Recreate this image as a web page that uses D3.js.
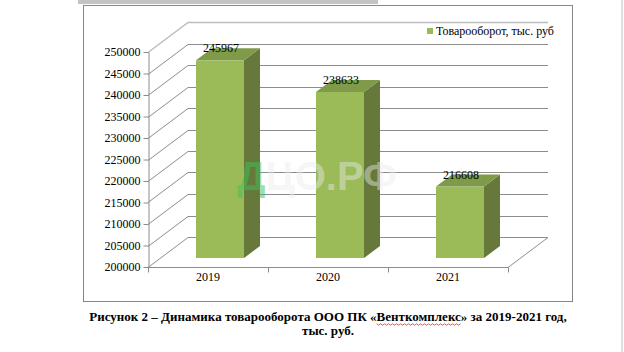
<!DOCTYPE html>
<html>
<head>
<meta charset="utf-8">
<script src="https://cdn.jsdelivr.net/npm/d3@7"></script>
<style>
  body { margin: 0; background: #fff; }
  svg { display: block; }
</style>
</head>
<body>
<div id="chart"></div>
<script>
const years = ["2019", "2020", "2021"];
const turnover = [245967, 238633, 216608];
const yTicks = [200000, 205000, 210000, 215000, 220000, 225000, 230000, 235000, 240000, 245000, 250000];
const seriesName = "Товарооборот, тыс. руб";
const captionLine1 = ["Рисунок 2 – Динамика товарооборота ООО ПК ", "«", "Венткомплекс", "» за 2019-2021 год,"];
const captionLine2 = "тыс. руб.";

const width = 624;
const height = 352;
const serif = "'Liberation Serif', 'Times New Roman', serif";

// plot area (front plane) and 3d depth
const plot = { left: 148, right: 508, top: 52, bottom: 267 };
const depth = { dx: 40, dy: -30 };

const svg = d3.select("#chart")
  .append("svg")
  .attr("width", width)
  .attr("height", height);

// page decorations
svg.append("rect").attr("x", 78).attr("y", 0).attr("width", 300).attr("height", 4).attr("fill", "#c3c3c3");
svg.append("line").attr("x1", 622).attr("x2", 622).attr("y1", 0).attr("y2", height)
  .attr("stroke", "#d4d4d4").attr("stroke-width", 1.5);

// chart frame
svg.append("rect")
  .attr("x", 83.5).attr("y", 5.5)
  .attr("width", 489).attr("height", 296)
  .attr("fill", "#fff")
  .attr("stroke", "#868686");

const x = d3.scaleBand()
  .domain(years)
  .range([plot.left, plot.right]);

const y = d3.scaleLinear()
  .domain([200000, 250000])
  .range([plot.bottom, plot.top]);

// back wall gridlines with diagonals on the side wall
const grid = svg.append("g").attr("stroke", "#8c8c8c").attr("fill", "none");
yTicks.forEach((v) => {
  const yy = Math.round(y(v)) + 0.5;
  grid.append("path")
    .attr("d", `M${plot.left},${yy}L${plot.left + depth.dx},${yy + depth.dy}L${plot.right + depth.dx},${yy + depth.dy}`)
    .attr("stroke", v === 250000 ? "#bdbdbd" : "#8c8c8c")
    .attr("stroke-width", v === 250000 ? 1.5 : 1);
});

// floor
const fy = Math.round(y(200000)) + 0.5;
grid.append("path")
  .attr("d", `M${plot.left},${fy}L${plot.right},${fy}L${plot.right + depth.dx},${fy + depth.dy}`);

// category boundary ticks (Excel style: between categories)
svg.append("g")
  .selectAll("line")
  .data([plot.left, ...years.map((d) => x(d) + x.bandwidth())])
  .join("line")
  .attr("x1", (d) => Math.round(d) + 0.5)
  .attr("x2", (d) => Math.round(d) + 0.5)
  .attr("y1", fy)
  .attr("y2", fy + 5)
  .attr("stroke", "#8c8c8c");

// category labels
svg.append("g")
  .selectAll("text")
  .data(years)
  .join("text")
  .attr("x", (d) => x(d) + x.bandwidth() / 2)
  .attr("y", 281)
  .attr("text-anchor", "middle")
  .attr("font-family", serif)
  .attr("font-size", 12)
  .text((d) => d);

// y axis
svg.append("g")
  .attr("transform", `translate(${plot.left + 0.5},0)`)
  .call(d3.axisLeft(y).tickValues(yTicks).tickSize(5).tickPadding(3).tickSizeOuter(0).tickFormat(d3.format("d")))
  .call((g) => g.select(".domain").attr("stroke", "#8c8c8c"))
  .call((g) => g.selectAll(".tick line").attr("stroke", "#8c8c8c"))
  .call((g) => g.selectAll(".tick text")
    .attr("font-family", serif)
    .attr("font-size", 12)
    .attr("fill", "#000"));

// 3d columns
const bw = x.bandwidth() * 0.4;
const frontShift = { dx: depth.dx * 0.3, dy: depth.dy * 0.3 };
const barDepth = { dx: depth.dx * 0.4, dy: depth.dy * 0.4 };

const bars = svg.append("g")
  .selectAll("g")
  .data(years.map((d, i) => ({ year: d, value: turnover[i] })))
  .join("g");

const fx0 = (d) => x(d.year) + x.bandwidth() * 0.3 + frontShift.dx;
const fTop = (d) => y(d.value) + frontShift.dy;
const fBottom = y(200000) + frontShift.dy;

bars.append("rect")
  .attr("x", fx0)
  .attr("y", fTop)
  .attr("width", bw)
  .attr("height", (d) => fBottom - fTop(d))
  .attr("fill", "#9bbb59");

bars.append("path")
  .attr("fill", "#66793a")
  .attr("d", (d) => {
    const x1 = fx0(d) + bw;
    const t = fTop(d);
    return `M${x1},${t}L${x1 + barDepth.dx},${t + barDepth.dy}L${x1 + barDepth.dx},${fBottom + barDepth.dy}L${x1},${fBottom}Z`;
  });

bars.append("path")
  .attr("fill", "#7f9a48")
  .attr("d", (d) => {
    const x0 = fx0(d);
    const x1 = x0 + bw;
    const t = fTop(d);
    return `M${x0},${t}L${x0 + barDepth.dx},${t + barDepth.dy}L${x1 + barDepth.dx},${t + barDepth.dy}L${x1},${t}Z`;
  });

bars.append("text")
  .attr("x", (d) => fx0(d) + bw / 2 + 1)
  .attr("y", (d) => fTop(d) - 8)
  .attr("text-anchor", "middle")
  .attr("font-family", serif)
  .attr("font-size", 12)
  .text((d) => d.value);

// legend
svg.append("rect")
  .attr("x", 427).attr("y", 28)
  .attr("width", 6).attr("height", 6)
  .attr("fill", "#9bbb59");
svg.append("text")
  .attr("x", 436).attr("y", 35)
  .attr("font-family", serif)
  .attr("font-size", 12)
  .text(seriesName);

// watermark
const wm = svg.append("text")
  .attr("x", 237).attr("y", 190)
  .attr("font-family", "'Liberation Sans', Arial, sans-serif")
  .attr("font-weight", "bold")
  .attr("font-size", 40);
wm.append("tspan").attr("fill", "#3fbf5a").attr("fill-opacity", 0.5).text("Д");
wm.append("tspan").attr("fill", "#ececec").attr("fill-opacity", 0.45).text("ЦО.РФ");

// caption
const cap = svg.append("text")
  .attr("x", 328).attr("y", 321)
  .attr("text-anchor", "middle")
  .attr("font-family", serif)
  .attr("font-weight", "bold")
  .attr("font-size", 13)
  .text(captionLine1.join(""));

// red spell-check wave under the company name
const node = cap.node();
const start = captionLine1[0].length + captionLine1[1].length;
const wordX0 = node.getStartPositionOfChar(start).x;
const wordX1 = node.getEndPositionOfChar(start + captionLine1[2].length - 1).x;
const wave = d3.range(wordX0, wordX1, 2).map((px, i) => [px, 324 + (i % 2 ? 1.2 : -0.2)]);
svg.append("path")
  .attr("d", d3.line()(wave))
  .attr("fill", "none")
  .attr("stroke", "#e03030")
  .attr("stroke-width", 0.8);

svg.append("text")
  .attr("x", 328).attr("y", 335)
  .attr("text-anchor", "middle")
  .attr("font-family", serif)
  .attr("font-weight", "bold")
  .attr("font-size", 13)
  .text(captionLine2);
</script>
</body>
</html>
